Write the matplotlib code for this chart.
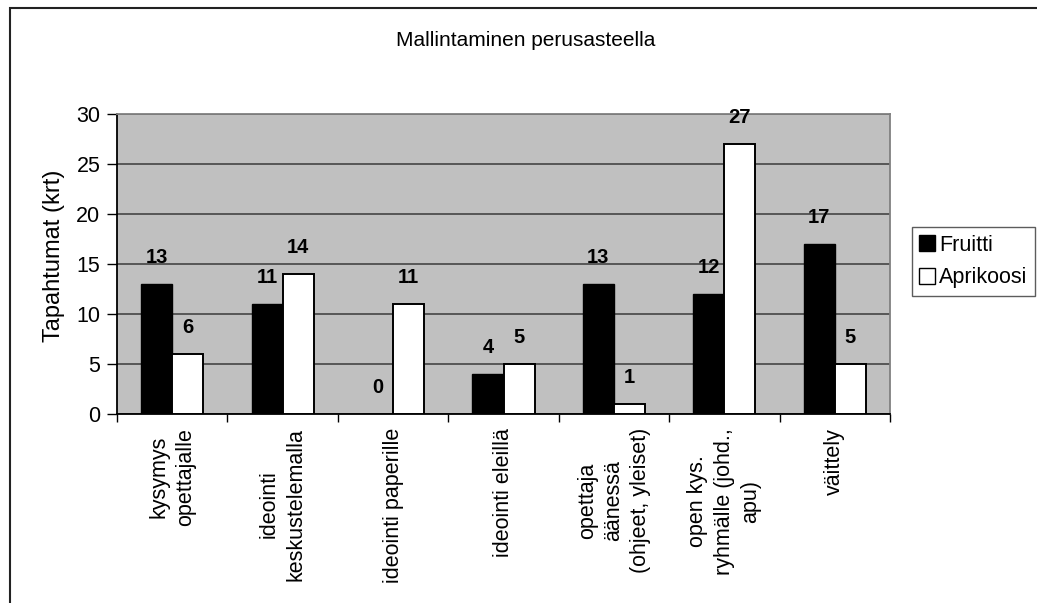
import numpy as np
import matplotlib.pyplot as plt
from matplotlib.lines import Line2D
from matplotlib.patches import Rectangle

plt.rcParams['font.family'] = ['Liberation Sans', 'DejaVu Sans']

# ---- data ----
categories = ['kysymys\nopettajalle', 'ideointi\nkeskustelemalla', 'ideointi paperille',
              'ideointi eleillä', 'opettaja\näänessä\n(ohjeet, yleiset)',
              'open kys.\nryhmälle (johd.,\napu)', 'väittely']
fruitti = [13, 11, 0, 4, 13, 12, 17]
aprikoosi = [6, 14, 11, 5, 1, 27, 5]
yticks = [0, 5, 10, 15, 20, 25, 30]

FS = 15.5
W, H = 1037, 603
fig = plt.figure(figsize=(W / 100, H / 100), dpi=100)
ax = fig.add_axes([117 / W, 1 - 414 / H, (890 - 117) / W, 300 / H])

# outer chart frame (runs off the right/bottom edge)
fig.patches.append(Rectangle((10 / W, -0.05), 1.2, 1 - 8 / H + 0.05,
                             transform=fig.transFigure, fill=False,
                             edgecolor='#222222', linewidth=1.5))

ax.set_facecolor('#C0C0C0')
n = len(categories)
centers = np.arange(n) + 0.5
bw = 31 / 110

ax.set_axisbelow(True)
ax.yaxis.grid(True, color='#3a3a3a', linewidth=1.1)
ax.bar(centers - bw / 2, fruitti, width=bw, color='black', edgecolor='black', linewidth=1, zorder=3)
ax.bar(centers + bw / 2, aprikoosi, width=bw, color='white', edgecolor='black', linewidth=1.4, zorder=3)

# data labels
for c, v in zip(centers - bw / 2, fruitti):
    ax.annotate(str(v), (c, v), xytext=(0, 19), textcoords='offset points',
                ha='center', va='center', fontsize=14.5, fontweight='bold')
for c, v in zip(centers + bw / 2, aprikoosi):
    ax.annotate(str(v), (c, v), xytext=(0, 19), textcoords='offset points',
                ha='center', va='center', fontsize=14.5, fontweight='bold')

ax.set_xlim(0, n)
ax.set_ylim(0, 30)
ax.set_yticks(yticks)
ax.tick_params(axis='y', length=7, width=1, labelsize=FS, pad=5)

# ticks on category boundaries, labels at category centres
ax.set_xticks(np.arange(n + 1))
ax.set_xticklabels([])
ax.tick_params(axis='x', which='major', length=6, width=1)
ax.set_xticks(centers, minor=True)
ax.set_xticklabels(categories, minor=True, rotation=90, ha='center', va='top',
                   multialignment='center', linespacing=1.35, fontsize=FS)
ax.tick_params(axis='x', which='minor', length=0, pad=10)

for s in ['left', 'bottom']:
    ax.spines[s].set_color('black')
    ax.spines[s].set_linewidth(1.3)
for s in ['top', 'right']:
    ax.spines[s].set_color('#808080')
    ax.spines[s].set_linewidth(1.3)

ax.set_ylabel('Tapahtumat (krt)', fontsize=17)
ax.yaxis.set_label_coords(-0.067, 0.527)
fig.text(526 / W, 1 - 40 / H, 'Mallintaminen perusasteella', ha='center', va='center', fontsize=15)

handles = [Line2D([], [], linestyle='none', marker='s', markersize=11,
                  markerfacecolor='black', markeredgecolor='black'),
           Line2D([], [], linestyle='none', marker='s', markersize=11,
                  markerfacecolor='white', markeredgecolor='black')]
leg = fig.legend(handles, ['Fruitti', 'Aprikoosi'], loc='upper left',
                 bbox_to_anchor=(912 / W, 1 - 227 / H), frameon=True, fancybox=False,
                 edgecolor='#333333', fontsize=FS, handlelength=0.7,
                 handletextpad=0.2, borderpad=0.35, labelspacing=0.55, borderaxespad=0)
leg.get_frame().set_linewidth(1)

plt.savefig('out.png', dpi=100)
